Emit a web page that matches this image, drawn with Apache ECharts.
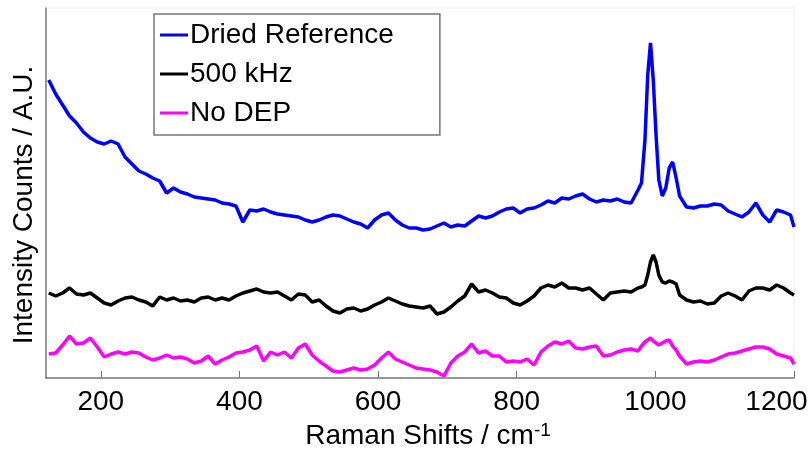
<!DOCTYPE html>
<html>
<head>
<meta charset="utf-8">
<title>Raman spectra</title>
<script src="https://cdn.jsdelivr.net/npm/echarts@6/dist/echarts.min.js"></script>
<style>
    html, body { margin: 0; padding: 0; background: #fff; }
    #chart { width: 812px; height: 450px; }
</style>
</head>
<body>
<div id="chart"></div>
<script>
// raman shift (cm-1), denser around the 1000 peak
var ramanShift = [125, 135, 145, 155, 165, 175, 185, 195, 205, 215,
    225, 235, 245, 255, 265, 275, 285, 295, 305, 315,
    325, 335, 345, 355, 365, 375, 385, 395, 405, 415,
    425, 435, 445, 455, 465, 475, 485, 495, 505, 515,
    525, 535, 545, 555, 565, 575, 585, 595, 605, 615,
    625, 635, 645, 655, 665, 675, 685, 695, 705, 715,
    725, 735, 745, 755, 765, 775, 785, 795, 805, 815,
    825, 835, 845, 855, 865, 875, 885, 895, 905, 915,
    925, 935, 945, 955, 965, 975, 980, 985, 989, 993,
    997, 1001, 1005, 1010, 1015, 1020, 1025, 1030, 1035, 1045,
    1055, 1065, 1075, 1085, 1095, 1105, 1115, 1125, 1135, 1145,
    1155, 1165, 1175, 1185, 1195, 1200];

// intensities (arbitrary units, curves already offset)
var driedReference = [298, 284, 273, 262, 255, 246, 240, 236, 234, 237,
    234, 221, 214, 207, 204, 200, 197, 185, 190, 186,
    184, 181, 180, 179, 178, 175, 174, 172, 156, 168,
    167, 169, 166, 164, 163, 162, 161, 158, 156, 158,
    161, 163, 162, 159, 156, 154, 150, 158, 163, 165,
    158, 153, 150, 150, 148, 149, 152, 155, 151, 153,
    152, 157, 162, 160, 162, 166, 169, 170, 165, 169,
    170, 173, 177, 175, 180, 179, 182, 184, 179, 176,
    178, 177, 179, 176, 175, 188, 195, 238, 303, 335,
    298, 243, 198, 182, 190, 210, 216, 200, 182, 171,
    170, 172, 172, 174, 173, 167, 164, 161, 166, 175,
    163, 156, 168, 166, 163, 151];

var khz500 = [85, 82, 85, 90, 84, 83, 85, 80, 75, 73,
    77, 80, 81, 78, 76, 72, 81, 78, 80, 77,
    78, 76, 80, 81, 78, 80, 78, 82, 85, 87,
    89, 86, 85, 86, 82, 78, 84, 83, 76, 78,
    72, 67, 65, 69, 70, 67, 69, 73, 76, 80,
    77, 74, 72, 71, 70, 72, 64, 66, 71, 77,
    82, 94, 86, 88, 85, 81, 80, 75, 73, 77,
    82, 90, 93, 91, 95, 90, 90, 88, 90, 84,
    78, 85, 86, 87, 86, 90, 91, 93, 103, 116,
    123, 116, 103, 96, 95, 97, 96, 94, 83, 78,
    76, 77, 74, 75, 82, 85, 82, 78, 87, 90,
    90, 88, 93, 90, 85, 83];

var noDep = [24, 25, 33, 42, 34, 35, 40, 31, 21, 24,
    26, 24, 26, 25, 21, 18, 20, 23, 20, 21,
    19, 15, 17, 22, 14, 18, 21, 25, 26, 28,
    32, 17, 26, 23, 26, 20, 30, 34, 23, 17,
    12, 7, 6, 8, 10, 8, 9, 13, 20, 26,
    19, 16, 13, 10, 9, 8, 6, 2, 15, 22,
    26, 34, 25, 27, 22, 22, 16, 17, 16, 19,
    13, 26, 32, 36, 34, 37, 30, 29, 31, 32,
    22, 23, 26, 28, 29, 27, 32, 36, 38, 40,
    37, 35, 33, 35, 37, 38, 32, 28, 22, 14,
    16, 17, 16, 18, 21, 24, 25, 27, 29, 31,
    31, 29, 24, 22, 20, 14];

var xTicks = [200, 400, 600, 800, 1000, 1200];

var chart = echarts.init(document.getElementById('chart'));

var pairUp = function (ys) {
    var res = [];
    for (var i = 0; i < ys.length; i++) {
        res.push([ramanShift[i], ys[i]]);
    }
    return res;
};

var makeSeries = function (name, ys, color) {
    return {
        name: name,
        type: 'line',
        data: pairUp(ys),
        symbol: 'none',
        color: color,
        lineStyle: { color: color, width: 3.5 },
        animation: false
    };
};

var font = 'Liberation Sans, Arial, sans-serif';

option = {
    backgroundColor: '#fff',
    textStyle: { fontFamily: font },
    grid: {
        left: 46,
        right: 18,
        top: 8,
        bottom: 72,
        outerBoundsMode: 'none',
        containLabel: false,
        show: true,
        borderColor: '#f0f0f0',
        borderWidth: 1
    },
    legend: {
        left: 154,
        top: 14,
        orient: 'vertical',
        icon: 'rect',
        itemWidth: 28,
        itemHeight: 3,
        itemGap: 11,
        padding: [7, 46, 8, 6],
        borderColor: '#777',
        borderWidth: 1.5,
        backgroundColor: '#fff',
        textStyle: { fontSize: 28, color: '#000', fontFamily: font, padding: [0, 0, 0, -3] },
        data: ['Dried Reference', '500 kHz', 'No DEP']
    },
    xAxis: {
        type: 'value',
        min: 121,
        max: 1200,
        name: 'Raman Shifts / cm{sup|-1}',
        nameLocation: 'middle',
        nameGap: 38,
        nameTextStyle: {
            fontSize: 28,
            color: '#000',
            fontFamily: font,
            padding: [0, 0, 0, 16],
            rich: {
                sup: { fontSize: 19, verticalAlign: 'top', padding: [0, 0, 12, 0], color: '#000' }
            }
        },
        axisLine: { lineStyle: { color: '#777', width: 1.5 } },
        axisTick: { inside: true, length: 7, customValues: xTicks, lineStyle: { color: '#777' } },
        axisLabel: {
            customValues: xTicks,
            fontSize: 28,
            color: '#000',
            margin: 10,
            fontFamily: font,
            formatter: function (v) {
                // last label is pulled in so it stays on the page
                if (v >= 1200) return '{last|' + v + '}';
                return String(v);
            },
            rich: {
                last: { fontSize: 28, color: '#000', fontFamily: font, padding: [0, 35, 0, 0] }
            }
        },
        splitLine: { show: false }
    },
    yAxis: {
        type: 'value',
        min: 0,
        max: 370,
        name: 'Intensity Counts / A.U.',
        nameLocation: 'middle',
        nameGap: 8,
        nameTextStyle: { fontSize: 28, color: '#000', fontFamily: font, padding: [0, 24, 0, 0] },
        axisLine: { show: true, lineStyle: { color: '#777', width: 1.5 } },
        axisTick: { show: false },
        axisLabel: { show: false },
        splitLine: { show: false }
    },
    series: [
        makeSeries('Dried Reference', driedReference, '#0000ff'),
        makeSeries('500 kHz', khz500, '#000000'),
        makeSeries('No DEP', noDep, '#ff00ff')
    ]
};

chart.setOption(option);
</script>
</body>
</html>
